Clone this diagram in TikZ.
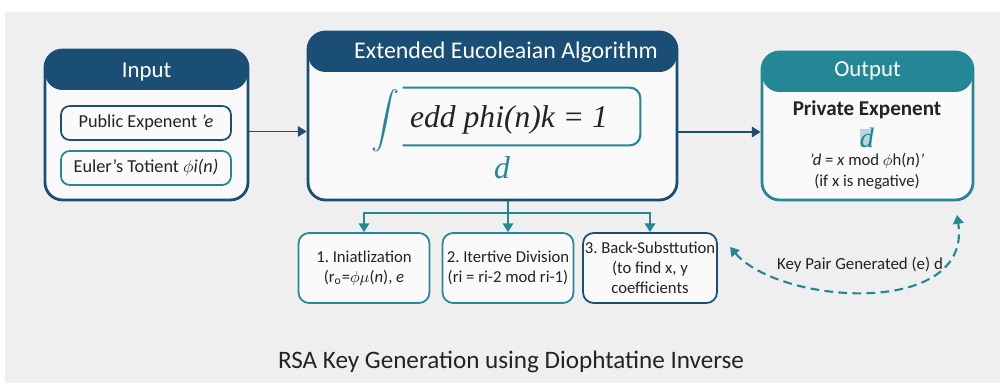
\documentclass[tikz,border=0pt]{standalone}
\usepackage{fontspec}
\setmainfont{Carlito}
\newfontfamily\mathser{Liberation Serif}
\usepackage{xcolor}
\definecolor{myblue}{RGB}{27,78,117}
\definecolor{myteal}{RGB}{35,135,150}
\definecolor{bggray}{RGB}{239,239,239}
\definecolor{hlteal}{RGB}{184,216,220}
\definecolor{txtdark}{RGB}{35,35,35}
\usetikzlibrary{arrows.meta}
\frenchspacing

\begin{document}
\begin{tikzpicture}[
  mainbox/.style={draw=#1, line width=1.6pt, rounded corners=10pt, fill=white!60!bggray},
  headfill/.style={path picture={\fill[#1] (path picture bounding box.north west) rectangle ([yshift=-0.8cm]path picture bounding box.north east);}},
  inbox/.style={draw=#1, line width=1pt, rounded corners=5pt, fill=white!70!bggray, minimum width=3.4cm, minimum height=0.68cm, font=\fontsize{10.4}{12}\selectfont, text=txtdark},
  stepbox/.style={draw=#1, line width=1pt, rounded corners=6pt, fill=white!70!bggray, minimum width=2.62cm, inner sep=1pt, minimum height=1.4cm, align=center, font=\fontsize{9.5}{11.5}\selectfont, text=txtdark},
  headtxt/.style={text=white, font=\fontsize{13}{14}\selectfont},
  smalltxt/.style={text=txtdark, inner sep=1pt, font=\fontsize{9.5}{11}\selectfont},
  arr/.style={-{Triangle[length=5pt,width=6pt]}, line width=1pt, draw=#1},
]

% Background
\fill[white] (0,0) rectangle (20,7.66);
\fill[bggray] (0.1,0) rectangle (20,7.42);

% Input
\node[mainbox=myblue, headfill=myblue, minimum width=4.06cm, minimum height=3cm] (inp) at (2.93,5.16) {};
\node[headtxt] (inptitle) at (2.93,6.22) {Input};
\node[inbox=myblue] (pub) at (2.92,5.2) {Public Expenent \textit{'e}};
\node[inbox=myteal] (tot) at (2.92,4.3) {Euler's Totient \textit{$\phi$i(n)}};

% Extended Euclid box
\node[mainbox=myblue, headfill=myblue, minimum width=7.38cm, minimum height=3.36cm] (ext) at (9.85,5.34) {};
\node[headtxt, font=\fontsize{13.6}{14}\selectfont] (exttitle) at (10.12,6.62) {Extended Eucoleaian Algorithm};
\node[text=myteal, scale=1.6] (intg) at (7.72,5.24) {$\displaystyle\int$};
\node[minimum width=4.74cm, minimum height=1.14cm, inner sep=0pt] (frm) at (10.43,5.33) {};
\draw[myteal, line width=1.2pt, rounded corners=6pt] (frm.north west) -- (frm.north east) -- (frm.south east) -- (frm.south west);
\node[text=txtdark, font=\mathser\itshape\fontsize{18}{20}\selectfont] (eq) at (10.18,5.26) {edd phi(n)k = 1};
\node[text=myteal, font=\mathser\itshape\fontsize{18}{20}\selectfont] (dext) at (10.04,4.3) {d};

% Output
\node[mainbox=myteal, headfill=myteal, minimum width=4.22cm, minimum height=2.96cm] (out) at (17.35,5.14) {};
\node[headtxt] (outtitle) at (17.35,6.24) {Output};
\node[text=txtdark, font=\bfseries\fontsize{12}{13}\selectfont] (priv) at (17.34,5.46) {Private Expenent};
\fill[hlteal] (17.2,4.72) rectangle (17.44,5.08);
\node[text=myteal, inner sep=0pt, font=\mathser\itshape\fontsize{16}{18}\selectfont] (dout) at (17.34,4.9) {d};
\node[smalltxt] (dform) at (17.34,4.44) {\textit{'d} = \textit{x} mod $\phi$h(\textit{n})\textit{'}};
\node[smalltxt] (neg) at (17.34,4.02) {(if x is negative)};

% Steps
\node[stepbox=myteal] (s1) at (7.28,2.3) {1. Iniatlization\\(r\textsubscript{o}=$\phi\mu$(\textit{n}), \textit{e}};
\node[stepbox=myteal] (s2) at (10.16,2.3) {2. Itertive Division\\(ri = ri-2 mod ri-1)};
\node[stepbox=myblue] (s3) at (13.0,2.3) {3. Back-Substtution\\(to find x, y\\coefficients};

% Arrows
\draw[arr=myblue] ([yshift=-0.13cm]inp.east) -- ([yshift=-0.13cm]inp.east -| ext.west);
\draw[arr=myblue] ([yshift=-0.32cm]ext.east) -- ([yshift=-0.32cm]ext.east -| out.west);
\coordinate (split) at (10.16,3.4);
\draw[myteal, line width=1pt] (ext.south -| s2) -- (split);
\draw[arr=myteal] (split) -| (s1.north);
\draw[arr=myteal] (split) -- (s2.north);
\draw[arr=myteal] (split) -| (s3.north);

% Key pair loop
\coordinate (kpl) at (14.6,2.72);
\coordinate (kpr) at (19.14,3.36);
\draw[{Triangle[length=5pt,width=6pt]}-{Triangle[length=5pt,width=6pt]}, myteal, line width=1.2pt, dash pattern=on 5pt off 3pt] (kpl) .. controls (15.6,1.56) and (19.45,1.3) .. (kpr);
\node[text=txtdark, font=\fontsize{9.6}{12}\selectfont] (kp) at (17.2,2.36) {Key Pair Generated (e) d};

% Title
\node[text=txtdark, font=\fontsize{14.3}{16}\selectfont] (title) at (10.22,0.42) {RSA Key Generation using Diophtatine Inverse};

\end{tikzpicture}
\end{document}
